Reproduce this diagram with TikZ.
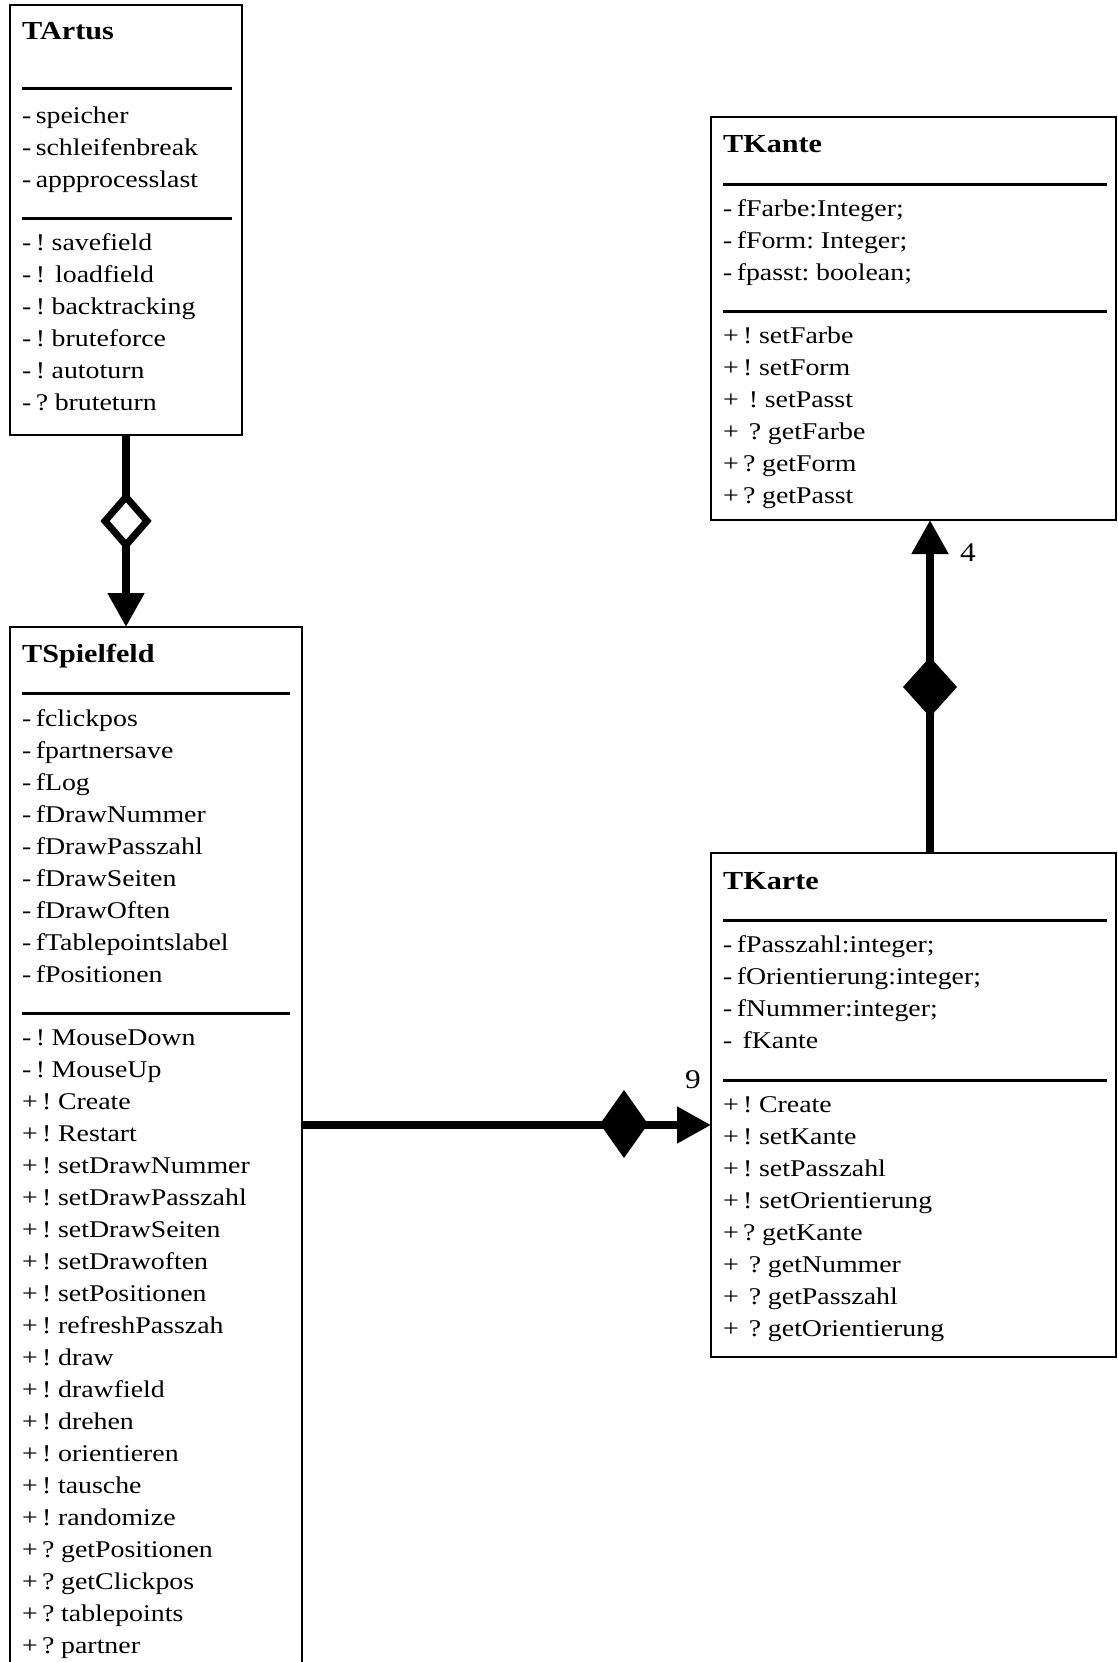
\documentclass[tikz,border=0pt]{standalone}
\usepackage{fontspec}
\setmainfont{Liberation Serif}[FakeStretch=1.16]
\usetikzlibrary{arrows.meta,calc}
\begin{document}
\begin{tikzpicture}[x=1pt,y=-1pt]
\tikzset{
  classbox/.style={draw=black, line width=2.5pt, inner sep=0pt, outer sep=0pt, anchor=north west},
  sepline/.style={line width=3pt},
  item/.style={anchor=base west, inner sep=0pt, font={\fontsize{24}{24}\selectfont\spaceskip=0.18em\relax}},
  ctitle/.style={anchor=base west, inner sep=0pt, font=\fontsize{26}{26}\selectfont\bfseries},
  conn/.style={line width=8pt},
  tipend/.style={-{Triangle[length=34pt 0 0,width=35pt 0 0]}},
  opendia/.style={draw=black, line width=7pt, fill=white, line join=miter},
  filldia/.style={fill=black},
  mult/.style={inner sep=0pt, font=\fontsize{27}{27}\selectfont},
}
\newcommand{\wsp}{\hspace{0.42em}}
\useasboundingbox (0,0) rectangle (1118,1662);
\fill[white] (0,0) rectangle (1118,1662);
\clip (0,0) rectangle (1118,1662);

% ---------- class boxes ----------
\node[classbox, minimum width=232pt, minimum height=430pt] (artus) at (10,5) {};
\node[classbox, minimum width=292pt, minimum height=1100pt] (spiel) at (10,627) {};
\node[classbox, minimum width=405pt, minimum height=403pt] (kante) at (711,117) {};
\node[classbox, minimum width=405pt, minimum height=504pt] (karte) at (711,853) {};

% ---------- TArtus ----------
\node[ctitle] (artusT) at (22,40) {TArtus};
\draw[sepline] (22,88) -- (232,88);
\draw[sepline] (22,218) -- (232,218);
\foreach \t [count=\i from 0] in {{- speicher},{- schleifenbreak},{- appprocesslast}}
  \node[item] (artusA\i) at (22,123+32*\i) {\t};
\foreach \t [count=\i from 0] in {{- ! savefield},{- !\wsp loadfield},{- ! backtracking},{- ! bruteforce},{- ! autoturn},{- ? bruteturn}}
  \node[item] (artusM\i) at (22,250+32*\i) {\t};

% ---------- TSpielfeld ----------
\node[ctitle] (spielT) at (22,662) {TSpielfeld};
\draw[sepline] (22,693) -- (290,693);
\draw[sepline] (22,1013) -- (290,1013);
\foreach \t [count=\i from 0] in {{- fclickpos},{- fpartnersave},{- fLog},{- fDrawNummer},{- fDrawPasszahl},{- fDrawSeiten},{- fDrawOften},{- fTablepointslabel},{- fPositionen}}
  \node[item] (spielA\i) at (22,726+32*\i) {\t};
\foreach \t [count=\i from 0] in {{- ! MouseDown},{- ! MouseUp},{+ ! Create},{+ ! Restart},{+ ! setDrawNummer},{+ ! setDrawPasszahl},{+ ! setDrawSeiten},{+ ! setDrawoften},{+ ! setPositionen},{+ ! refreshPasszah},{+ ! draw},{+ ! drawfield},{+ ! drehen},{+ ! orientieren},{+ ! tausche},{+ ! randomize},{+ ? getPositionen},{+ ? getClickpos},{+ ? tablepoints},{+ ? partner}}
  \node[item] (spielM\i) at (22,1045+32*\i) {\t};

% ---------- TKante ----------
\node[ctitle] (kanteT) at (723,152) {TKante};
\draw[sepline] (723,184) -- (1107,184);
\draw[sepline] (723,311) -- (1107,311);
\foreach \t [count=\i from 0] in {{- fFarbe:Integer;},{- fForm: Integer;},{- fpasst: boolean;}}
  \node[item] (kanteA\i) at (723,216+32*\i) {\t};
\foreach \t [count=\i from 0] in {{+ ! setFarbe},{+ ! setForm},{+\wsp! setPasst},{+\wsp? getFarbe},{+ ? getForm},{+ ? getPasst}}
  \node[item] (kanteM\i) at (723,343+32*\i) {\t};

% ---------- TKarte ----------
\node[ctitle] (karteT) at (723,889) {TKarte};
\draw[sepline] (723,920) -- (1107,920);
\draw[sepline] (723,1080) -- (1107,1080);
\foreach \t [count=\i from 0] in {{- fPasszahl:integer;},{- fOrientierung:integer;},{- fNummer:integer;},{-\wsp fKante}}
  \node[item] (karteA\i) at (723,952+32*\i) {\t};
\foreach \t [count=\i from 0] in {{+ ! Create},{+ ! setKante},{+ ! setPasszahl},{+ ! setOrientierung},{+ ? getKante},{+\wsp? getNummer},{+\wsp? getPasszahl},{+\wsp? getOrientierung}}
  \node[item] (karteM\i) at (723,1112+32*\i) {\t};

% ---------- connectors ----------
% TArtus -> TSpielfeld (aggregation)
\draw[conn, tipend] (artus.south) -- (artus.south |- spiel.north);
\draw[opendia] (126,497) -- (147,521) -- (126,545) -- (105,521) -- cycle;

% TKarte -> TKante (composition, 4)
\coordinate (vk) at (930,0);
\draw[conn, tipend] (vk |- karte.north) -- (vk |- kante.south);
\fill[filldia] (930,657) -- (957,687) -- (930,717) -- (903,687) -- cycle;
\node[mult, anchor=west] (four) at (960,553) {4};

% TSpielfeld -> TKarte (composition, 9)
\coordinate (hk) at (0,1125);
\draw[conn, tipend] (spiel.east |- hk) -- (karte.west |- hk);
\fill[filldia] (600,1124) -- (624,1090) -- (648,1124) -- (624,1158) -- cycle;
\node[mult, anchor=center] (nine) at (693,1080) {9};
\end{tikzpicture}
\end{document}
